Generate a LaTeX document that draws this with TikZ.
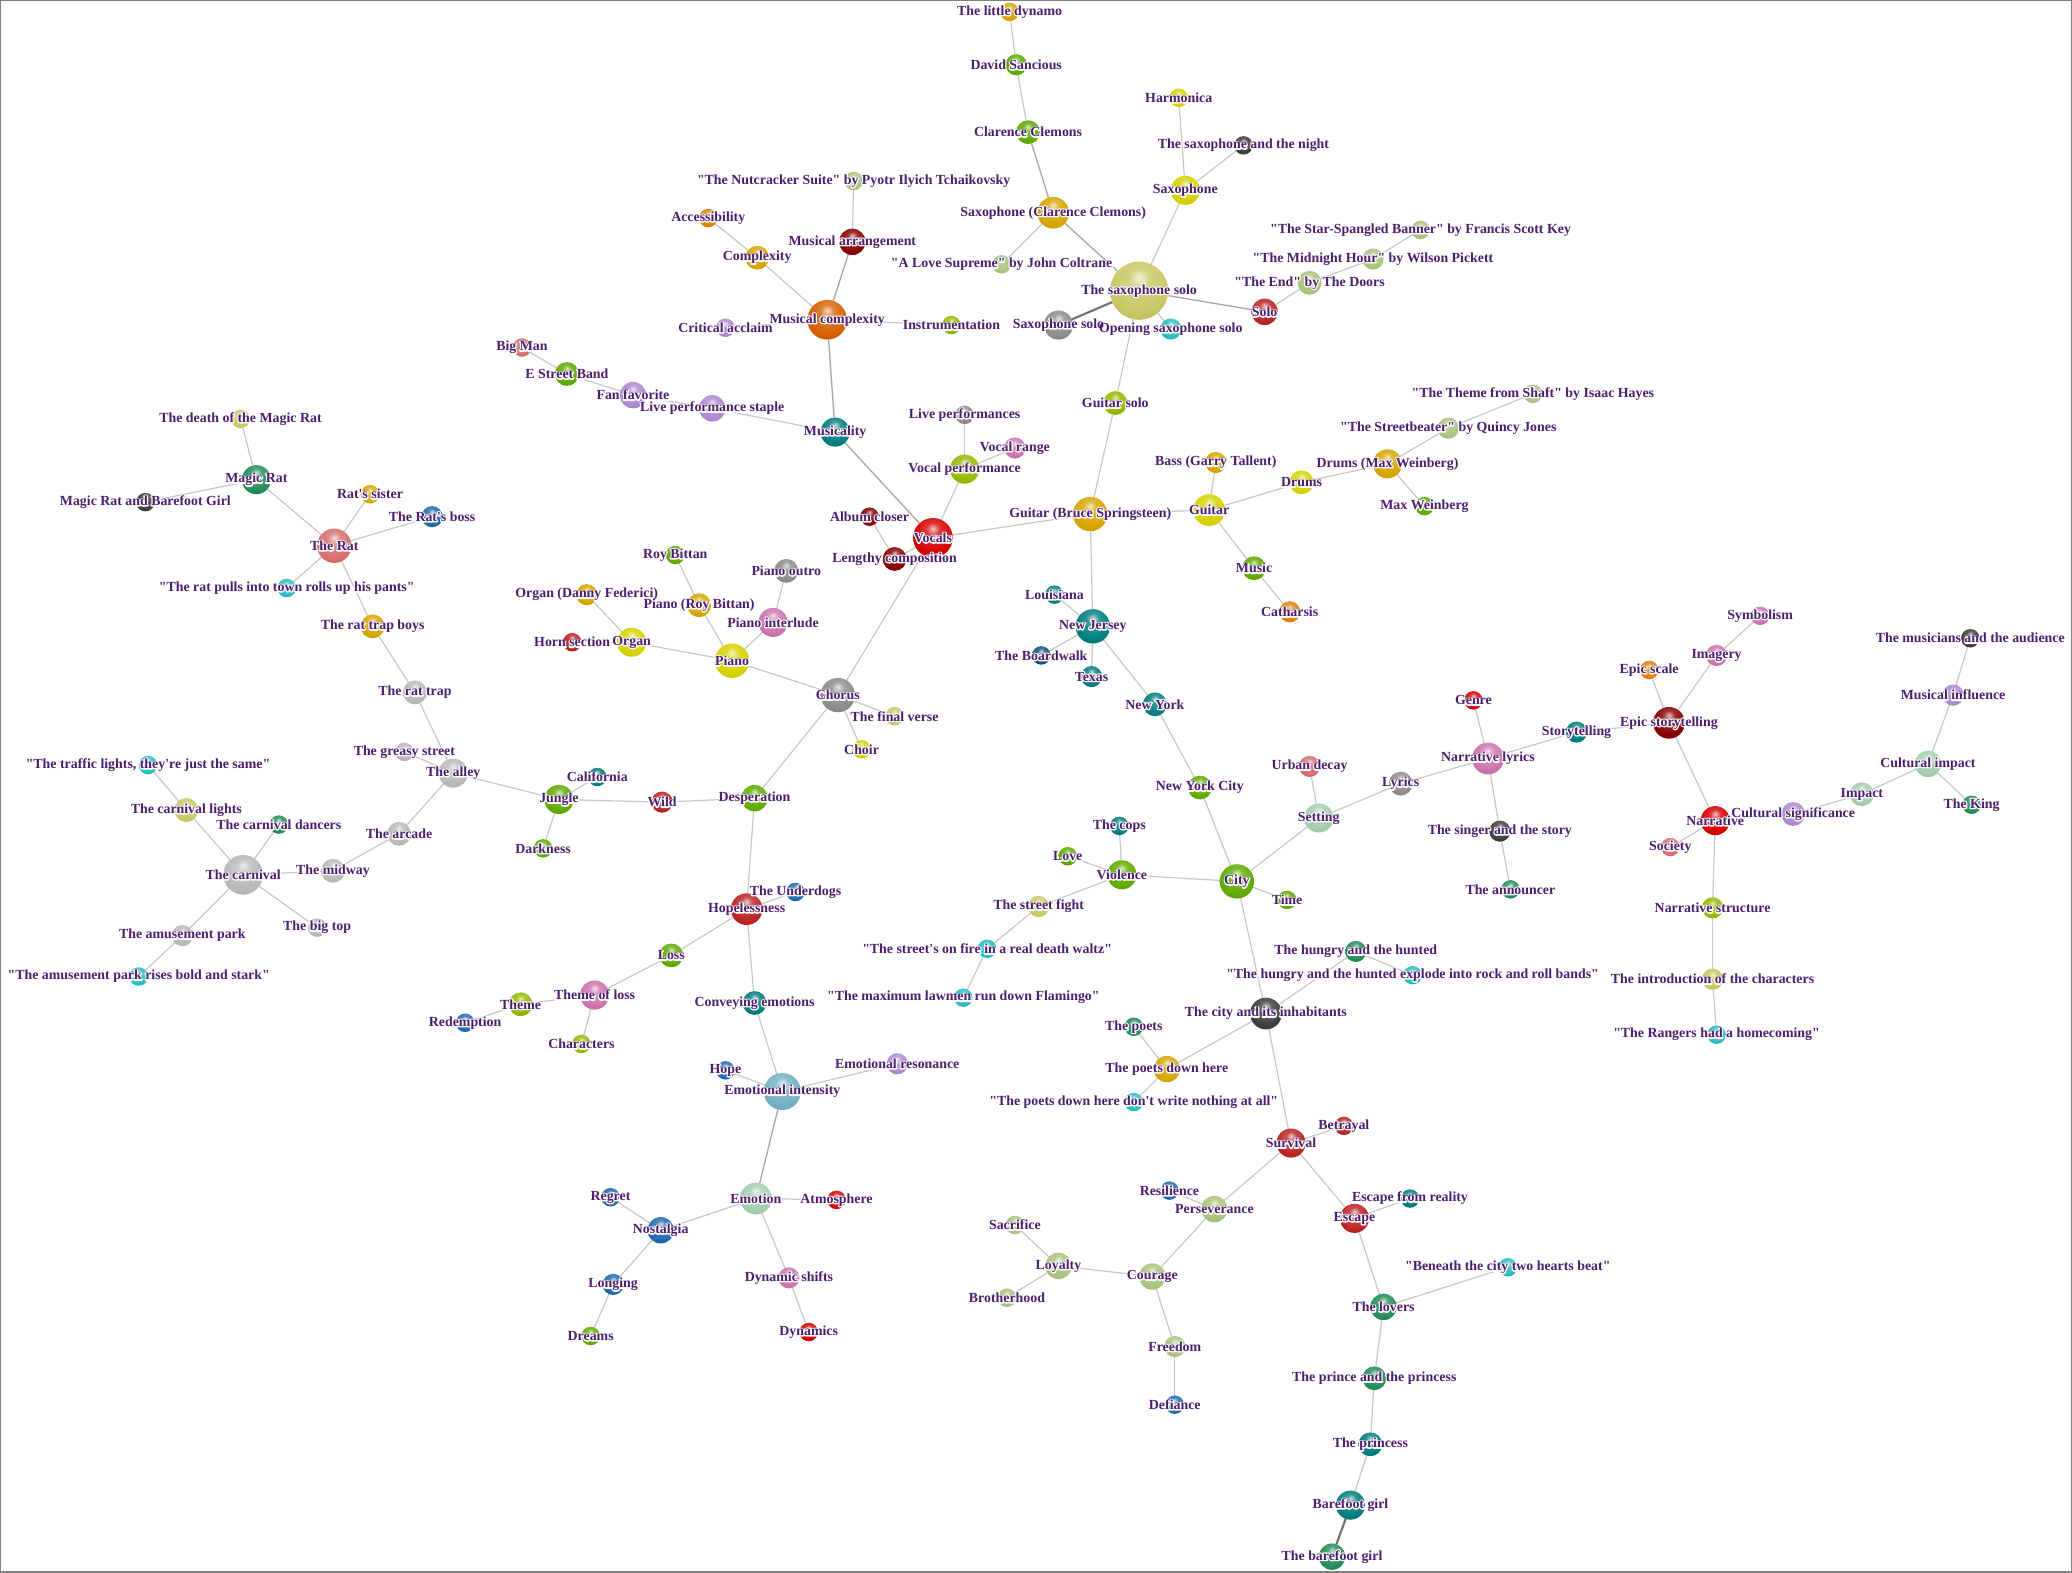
\documentclass[tikz,border=0pt]{standalone}
\usepackage{fontspec}
\newfontfamily\lblfont{Liberation Serif}
\pgfdeclarelayer{background}
\pgfsetlayers{background,main}
\makeatletter
\pgfdeclareradialshading[tikz@ball]{myball}{\pgfqpoint{0bp}{12bp}}{%
  color(0bp)=(tikz@ball!25!white);
  color(9bp)=(tikz@ball!80!white);
  color(26bp)=(tikz@ball);
  color(44bp)=(tikz@ball!82!black);
  color(62bp)=(tikz@ball!58!black)}
\makeatother
\definecolor{txt}{RGB}{76,30,110}
\definecolor{cOrange}{RGB}{225,130,10}
\definecolor{cDOrange}{RGB}{215,95,0}
\definecolor{cGold}{RGB}{215,165,0}
\definecolor{cYellow}{RGB}{215,210,0}
\definecolor{cGreen}{RGB}{95,170,0}
\definecolor{cOlive}{RGB}{150,185,0}
\definecolor{cKhaki}{RGB}{200,200,100}
\definecolor{cSage}{RGB}{170,195,125}
\definecolor{cTeal}{RGB}{0,125,125}
\definecolor{cSea}{RGB}{35,140,90}
\definecolor{cTurq}{RGB}{40,190,195}
\definecolor{cRed}{RGB}{215,0,0}
\definecolor{cBrick}{RGB}{185,35,35}
\definecolor{cMaroon}{RGB}{135,0,0}
\definecolor{cCoral}{RGB}{215,110,110}
\definecolor{cGray}{RGB}{140,140,140}
\definecolor{cLGray}{RGB}{185,185,185}
\definecolor{cDGray}{RGB}{60,60,60}
\definecolor{cLav}{RGB}{175,135,210}
\definecolor{cOrchid}{RGB}{205,115,175}
\definecolor{cBlue}{RGB}{30,105,175}
\definecolor{cNavy}{RGB}{20,80,125}
\definecolor{cSeafoam}{RGB}{165,205,175}
\definecolor{cSteel}{RGB}{115,175,195}
\tikzset{
  ballnode/.style={circle,inner sep=0pt,outer sep=0pt,ball color=#1,shading=myball},
  lbl/.style={text=txt,font=\lblfont\bfseries\fontsize{10.5}{12}\selectfont,inner sep=0pt},
  halo/.style={text=white,font=\lblfont\bfseries\fontsize{10.5}{12}\selectfont,inner sep=0pt},
  edge/.style={draw=black!22,line width=0.9pt},
  edgeM/.style={draw=black!34,line width=1pt},
  edgeD/.style={draw=black!55,line width=1.6pt}
}
\newcommand\halotext[1]{\special{pdf:literal direct 1 Tr 1.8 w 1 J 1 j 1 1 1 RG}#1\special{pdf:literal direct 0 Tr}}
\newcommand\allnodes{%
\X{dyn}{764}{9}{7}{cGold}{The little dynamo}
\X{sanc}{769}{49}{8}{cGreen}{David Sancious}
\X{clem}{778}{100}{9}{cGreen}{Clarence Clemons}
\X{harm}{892}{74}{7}{cYellow}{Harmonica}
\X{saxnight}{941}{110}{7}{cDGray}{The saxophone and the night}
\X{sax}{897}{144}{11}{cYellow}{Saxophone}
\X{saxcc}{797}{161}{12}{cGold}{Saxophone (Clarence Clemons)}
\X{nut}{646}{137}{7}{cSage}{"The Nutcracker Suite" by Pyotr Ilyich Tchaikovsky}
\X{access}{536}{165}{7}{cOrange}{Accessibility}
\X{complex}{573}{195}{9}{cGold}{Complexity}
\X{arr}{645}{183}{10}{cMaroon}{Musical arrangement}
\X{lovesup}{758}{200}{7}{cSage}{"A Love Supreme" by John Coltrane}
\X{sxs}{862}{220}{22}{cKhaki}{The saxophone solo}
\X{star}{1075}{174}{7}{cSage}{"The Star-Spangled Banner" by Francis Scott Key}
\X{midnight}{1039}{196}{8}{cSage}{"The Midnight Hour" by Wilson Pickett}
\X{theend}{991}{214}{9}{cSage}{"The End" by The Doors}
\X{solo}{957}{236}{10}{cBrick}{Solo}
\X{critic}{549}{248}{7}{cLav}{Critical acclaim}
\X{mcomp}{626}{242}{15}{cDOrange}{Musical complexity}
\X{instr}{720}{246}{7}{cOlive}{Instrumentation}
\X{saxsolo}{801}{246}{11}{cGray}{Saxophone solo}
\X{opensax}{886}{249}{8}{cTurq}{Opening saxophone solo}
\X{bigman}{395}{263}{7}{cCoral}{Big Man}
\X{estreet}{429}{283}{9}{cGreen}{E Street Band}
\X{fan}{479}{299}{10}{cLav}{Fan favorite}
\X{staple}{539}{309}{10}{cLav}{Live performance staple}
\X{musicality}{632}{327}{11}{cTeal}{Musicality}
\X{gsolo}{844}{305}{9}{cOlive}{Guitar solo}
\X{shaft}{1160}{298}{7}{cSage}{"The Theme from Shaft" by Isaac Hayes}
\X{streetb}{1096}{324}{8}{cSage}{"The Streetbeater" by Quincy Jones}
\X{liveperf}{730}{314}{7}{cGray}{Live performances}
\X{vrange}{768}{339}{8}{cOrchid}{Vocal range}
\X{vperf}{730}{355}{11}{cOlive}{Vocal performance}
\X{bass}{920}{350}{8}{cGold}{Bass (Garry Tallent)}
\X{drumsmw}{1050}{351}{11}{cGold}{Drums (Max Weinberg)}
\X{drums}{985}{365}{9}{cYellow}{Drums}
\X{deathrat}{182}{317}{7}{cKhaki}{The death of the Magic Rat}
\X{magicrat}{194}{363}{11}{cSea}{Magic Rat}
\X{ratsis}{280}{374}{7}{cGold}{Rat's sister}
\X{mrbg}{110}{380}{7}{cDGray}{Magic Rat and Barefoot Girl}
\X{ratboss}{327}{391}{8}{cBlue}{The Rat's boss}
\X{rat}{253}{413}{13}{cCoral}{The Rat}
\X{album}{658}{391}{7}{cMaroon}{Album closer}
\X{vocals}{706}{407}{15}{cRed}{Vocals}
\X{lengthy}{677}{423}{9}{cMaroon}{Lengthy composition}
\X{guitarbs}{825}{389}{13}{cGold}{Guitar (Bruce Springsteen)}
\X{guitar}{915}{386}{12}{cYellow}{Guitar}
\X{maxw}{1078}{383}{7}{cGreen}{Max Weinberg}
\X{roy}{511}{420}{7}{cGreen}{Roy Bittan}
\X{pianoout}{595}{432}{9}{cGray}{Piano outro}
\X{music}{949}{430}{9}{cGreen}{Music}
\X{ratpulls}{217}{445}{7}{cTurq}{"The rat pulls into town rolls up his pants"}
\X{organdf}{444}{450}{8}{cGold}{Organ (Danny Federici)}
\X{pianorb}{529}{458}{9}{cGold}{Piano (Roy Bittan)}
\X{louis}{798}{450}{7}{cTeal}{Louisiana}
\X{cath}{976}{463}{8}{cOrange}{Catharsis}
\X{pianoint}{585}{471}{11}{cOrchid}{Piano interlude}
\X{nj}{827}{474}{13}{cTeal}{New Jersey}
\X{ratboys}{282}{474}{9}{cGold}{The rat trap boys}
\X{horn}{433}{486}{7}{cBrick}{Horn section}
\X{organ}{478}{486}{11}{cYellow}{Organ}
\X{piano}{554}{500}{13}{cYellow}{Piano}
\X{boardwalk}{788}{496}{7}{cNavy}{The Boardwalk}
\X{texas}{826}{512}{8}{cTeal}{Texas}
\X{symb}{1332}{466}{7}{cOrchid}{Symbolism}
\X{imagery}{1299}{496}{8}{cOrchid}{Imagery}
\X{musaud}{1491}{483}{7}{cDGray}{The musicians and the audience}
\X{epicscale}{1248}{507}{7}{cOrange}{Epic scale}
\X{epic}{1263}{547}{12}{cMaroon}{Epic storytelling}
\X{musinf}{1478}{526}{8}{cLav}{Musical influence}
\X{rattrap}{314}{524}{9}{cLGray}{The rat trap}
\X{chorus}{634}{526}{13}{cGray}{Chorus}
\X{finalv}{677}{542}{7}{cKhaki}{The final verse}
\X{ny}{874}{533}{9}{cTeal}{New York}
\X{genre}{1115}{530}{7}{cRed}{Genre}
\X{story}{1193}{554}{8}{cTeal}{Storytelling}
\X{choir}{652}{567}{7}{cYellow}{Choir}
\X{greasy}{306}{569}{7}{cLGray}{The greasy street}
\X{traffic}{112}{579}{7}{cTurq}{"The traffic lights, they're just the same"}
\X{alley}{343}{585}{11}{cLGray}{The alley}
\X{calif}{452}{588}{7}{cTeal}{California}
\X{urban}{991}{580}{8}{cCoral}{Urban decay}
\X{narrlyr}{1126}{574}{12}{cOrchid}{Narrative lyrics}
\X{lyrics}{1060}{593}{9}{cGray}{Lyrics}
\X{cultimp}{1459}{578}{10}{cSeafoam}{Cultural impact}
\X{nyc}{908}{596}{9}{cGreen}{New York City}
\X{clights}{141}{613}{9}{cKhaki}{The carnival lights}
\X{jungle}{423}{605}{11}{cGreen}{Jungle}
\X{wild}{501}{607}{8}{cBrick}{Wild}
\X{desp}{571}{604}{10}{cGreen}{Desperation}
\X{impact}{1409}{601}{9}{cSeafoam}{Impact}
\X{king}{1492}{609}{7}{cSea}{The King}
\X{cultsig}{1357}{616}{9}{cLav}{Cultural significance}
\X{cdancers}{211}{624}{7}{cSea}{The carnival dancers}
\X{setting}{998}{619}{11}{cSeafoam}{Setting}
\X{narr}{1298}{621}{11}{cRed}{Narrative}
\X{arcade}{302}{631}{9}{cLGray}{The arcade}
\X{cops}{847}{625}{7}{cTeal}{The cops}
\X{singer}{1135}{629}{8}{cDGray}{The singer and the story}
\X{dark}{411}{642}{7}{cGreen}{Darkness}
\X{society}{1264}{641}{7}{cCoral}{Society}
\X{lovenode}{808}{648}{7}{cGreen}{Love}
\X{carnival}{184}{662}{15}{cLGray}{The carnival}
\X{midway}{252}{659}{9}{cLGray}{The midway}
\X{violence}{849}{662}{11}{cGreen}{Violence}
\X{city}{936}{667}{13}{cGreen}{City}
\X{time}{974}{681}{7}{cGreen}{Time}
\X{underdogs}{602}{675}{7}{cBlue}{The Underdogs}
\X{announcer}{1143}{673}{7}{cSea}{The announcer}
\X{hopeless}{565}{688}{12}{cBrick}{Hopelessness}
\X{sfight}{786}{686}{8}{cKhaki}{The street fight}
\X{narrstruct}{1296}{687}{8}{cOlive}{Narrative structure}
\X{bigtop}{240}{702}{7}{cLGray}{The big top}
\X{amuse}{138}{708}{8}{cLGray}{The amusement park}
\X{loss}{508}{723}{9}{cGreen}{Loss}
\X{onfire}{747}{718}{7}{cTurq}{"The street's on fire in a real death waltz"}
\X{hungry}{1026}{720}{8}{cSea}{The hungry and the hunted}
\X{amuserise}{105}{739}{7}{cTurq}{"The amusement park rises bold and stark"}
\X{explode}{1069}{738}{7}{cTurq}{"The hungry and the hunted explode into rock and roll bands"}
\X{intro}{1296}{741}{8}{cKhaki}{The introduction of the characters}
\X{themeloss}{450}{753}{11}{cOrchid}{Theme of loss}
\X{theme}{394}{760}{9}{cOlive}{Theme}
\X{lawmen}{729}{755}{7}{cTurq}{"The maximum lawmen run down Flamingo"}
\X{convey}{571}{759}{9}{cTeal}{Conveying emotions}
\X{cityinh}{958}{767}{12}{cDGray}{The city and its inhabitants}
\X{redemp}{352}{774}{7}{cBlue}{Redemption}
\X{poets}{858}{777}{7}{cSea}{The poets}
\X{rangers}{1299}{783}{7}{cTurq}{"The Rangers had a homecoming"}
\X{chars}{440}{790}{7}{cOlive}{Characters}
\X{emores}{679}{805}{8}{cLav}{Emotional resonance}
\X{hope}{549}{810}{7}{cBlue}{Hope}
\X{poetsdh}{883}{809}{10}{cGold}{The poets down here}
\X{emoint}{592}{826}{14}{cSteel}{Emotional intensity}
\X{poetsdw}{858}{834}{7}{cTurq}{"The poets down here don't write nothing at all"}
\X{betray}{1017}{852}{7}{cBrick}{Betrayal}
\X{survival}{977}{865}{11}{cBrick}{Survival}
\X{resil}{885}{901}{7}{cBlue}{Resilience}
\X{emotion}{572}{907}{12}{cSeafoam}{Emotion}
\X{regret}{462}{906}{7}{cBlue}{Regret}
\X{atmos}{633}{908}{7}{cRed}{Atmosphere}
\X{escreal}{1067}{907}{7}{cTeal}{Escape from reality}
\X{persev}{919}{915}{10}{cSage}{Perseverance}
\X{escape}{1025}{922}{11}{cBrick}{Escape}
\X{nostal}{500}{931}{10}{cBlue}{Nostalgia}
\X{sacr}{768}{927}{7}{cSage}{Sacrifice}
\X{loyalty}{801}{958}{10}{cSage}{Loyalty}
\X{beneath}{1141}{959}{7}{cTurq}{"Beneath the city two hearts beat"}
\X{courage}{872}{966}{10}{cSage}{Courage}
\X{dynshift}{597}{967}{8}{cOrchid}{Dynamic shifts}
\X{longing}{464}{972}{8}{cBlue}{Longing}
\X{brother}{762}{982}{7}{cSage}{Brotherhood}
\X{lovers}{1047}{989}{10}{cSea}{The lovers}
\X{dynamics}{612}{1008}{7}{cRed}{Dynamics}
\X{dreams}{447}{1011}{7}{cGreen}{Dreams}
\X{freedom}{889}{1019}{8}{cSage}{Freedom}
\X{prince}{1040}{1043}{9}{cSea}{The prince and the princess}
\X{defiance}{889}{1063}{7}{cBlue}{Defiance}
\X{princess}{1037}{1093}{9}{cTeal}{The princess}
\X{barefoot}{1022}{1139}{11}{cTeal}{Barefoot girl}
\X{tbgirl}{1008}{1178}{10}{cSea}{The barefoot girl}
}
\begin{document}
\begin{tikzpicture}[x=1pt,y=-1pt]
\path[use as bounding box] (0,0) rectangle (1568,1190);
% balls
\def\X#1#2#3#4#5#6{\node[ballnode=#5,minimum size=2*#4pt] (#1) at (#2,#3) {};}
\allnodes
% connectors
\begin{pgfonlayer}{background}
\fill[white] (0,0) rectangle (1568,1190);
\foreach \a/\b in {dyn/sanc,sanc/clem,harm/sax,saxnight/sax,sax/sxs,saxcc/lovesup,
  nut/arr,access/complex,complex/mcomp,critic/mcomp,mcomp/instr,
  sxs/opensax,sxs/gsolo,solo/theend,theend/midnight,midnight/star,
  bigman/estreet,estreet/fan,fan/staple,staple/musicality,gsolo/guitarbs,
  liveperf/vperf,vrange/vperf,vperf/vocals,album/lengthy,lengthy/vocals,
  vocals/guitarbs,vocals/chorus,guitarbs/guitar,guitarbs/nj,guitar/bass,guitar/drums,
  drums/drumsmw,drumsmw/streetb,streetb/shaft,drumsmw/maxw,guitar/music,music/cath,
  deathrat/magicrat,magicrat/mrbg,magicrat/rat,ratsis/rat,ratboss/rat,rat/ratpulls,
  rat/ratboys,ratboys/rattrap,rattrap/alley,greasy/alley,alley/arcade,alley/jungle,
  arcade/midway,midway/carnival,carnival/clights,clights/traffic,carnival/cdancers,
  carnival/bigtop,carnival/amuse,amuse/amuserise,jungle/calif,jungle/dark,jungle/wild,
  wild/desp,desp/chorus,desp/hopeless,chorus/piano,chorus/finalv,chorus/choir,
  piano/organ,organ/organdf,organ/horn,piano/pianorb,pianorb/roy,piano/pianoint,
  pianoint/pianoout,hopeless/underdogs,hopeless/loss,hopeless/convey,loss/themeloss,
  themeloss/theme,theme/redemp,themeloss/chars,convey/emoint,emoint/hope,emoint/emores,
  emotion/atmos,emotion/nostal,emotion/dynshift,dynshift/dynamics,nostal/regret,
  nostal/longing,longing/dreams,nj/louis,nj/boardwalk,nj/texas,nj/ny,ny/nyc,nyc/city,
  city/setting,city/violence,city/time,city/cityinh,violence/cops,violence/lovenode,
  violence/sfight,sfight/onfire,onfire/lawmen,setting/urban,setting/lyrics,
  lyrics/narrlyr,narrlyr/genre,narrlyr/story,narrlyr/singer,singer/announcer,
  story/epic,epic/epicscale,epic/imagery,imagery/symb,epic/narr,narr/society,
  narr/cultsig,cultsig/impact,impact/cultimp,cultimp/king,cultimp/musinf,musinf/musaud,
  narr/narrstruct,narrstruct/intro,intro/rangers,cityinh/hungry,hungry/explode,
  cityinh/poetsdh,poetsdh/poets,poetsdh/poetsdw,cityinh/survival,survival/betray,
  survival/persev,survival/escape,persev/resil,persev/courage,courage/loyalty,
  loyalty/sacr,loyalty/brother,courage/freedom,freedom/defiance,escape/escreal,
  escape/lovers,lovers/beneath,lovers/prince,prince/princess,princess/barefoot}
  {\draw[edge] (\a) -- (\b);}
\foreach \a/\b in {clem/saxcc,saxcc/sxs,arr/mcomp,sxs/solo,mcomp/musicality,
  musicality/vocals,emoint/emotion}
  {\draw[edgeM] (\a) -- (\b);}
\foreach \a/\b in {sxs/saxsolo,barefoot/tbgirl}
  {\draw[edgeD] (\a) -- (\b);}
\end{pgfonlayer}
% label halos, then labels
\def\X#1#2#3#4#5#6{\node[halo] (#1-h) at (#1) {\halotext{#6}};}
\allnodes
\def\X#1#2#3#4#5#6{\node[lbl] (#1-t) at (#1) {#6};}
\allnodes
\draw[black!50,line width=1pt] (0.5,0.5) rectangle (1567.5,1189.5);
\end{tikzpicture}
\end{document}
